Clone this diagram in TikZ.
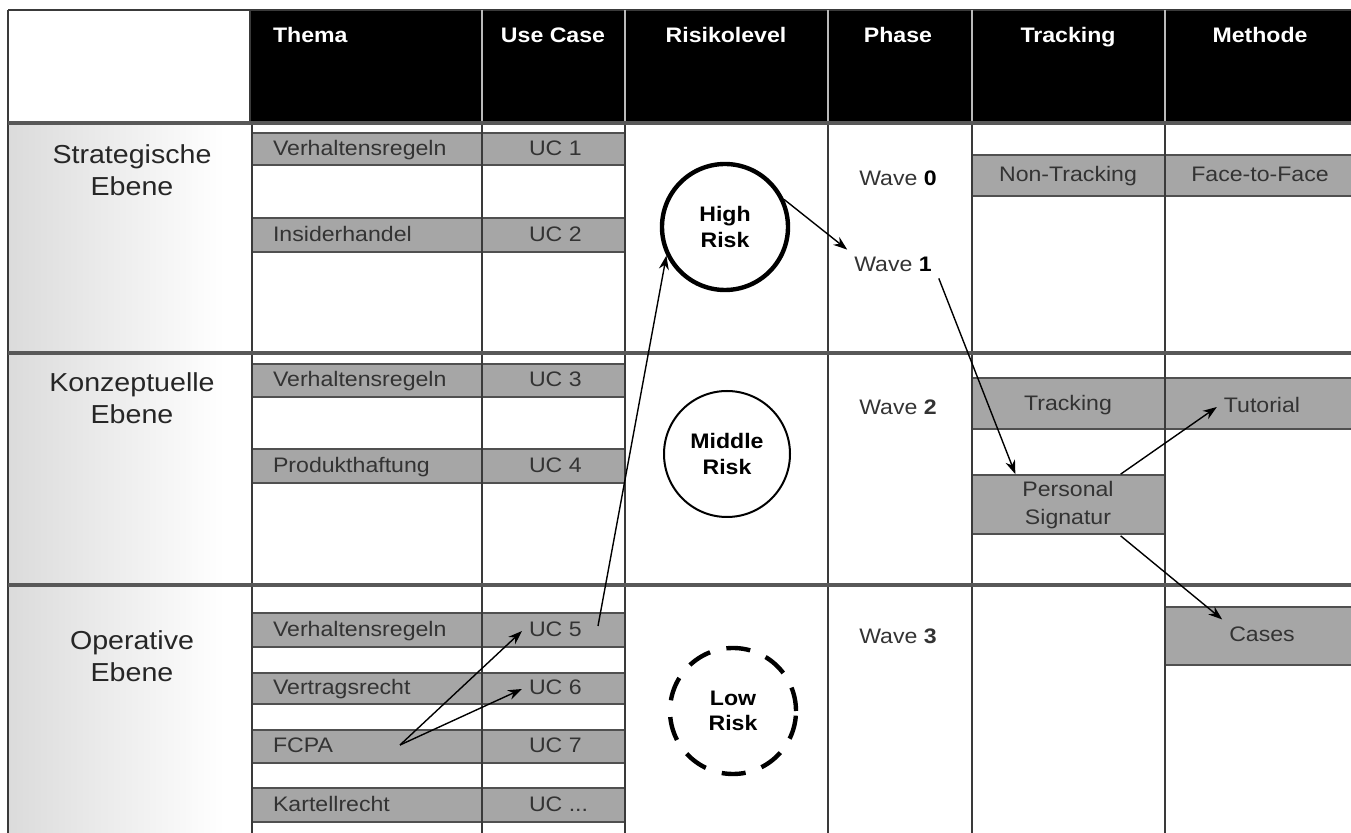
\documentclass[tikz,border=0pt]{standalone}
\usepackage{fontspec}
\setmainfont{Liberation Sans}[FakeStretch=1.1]
\usepackage{xcolor}
\usetikzlibrary{arrows.meta}
\definecolor{bar-gray}{HTML}{A6A6A6}
\definecolor{bar-line}{HTML}{505050}
\definecolor{grid-line}{HTML}{3A3A3A}
\definecolor{label-gray}{HTML}{333333}

\begin{document}
\begin{tikzpicture}[
    x=0.5pt, y=-0.5pt,
    bar/.style={fill=bar-gray, draw=bar-line, line width=1pt},
    grid/.style={draw=grid-line, line width=1pt},
    rowsep/.style={draw=grid-line!85, line width=1.6pt},
    headsep/.style={draw=gray!55, line width=0.6pt},
    head/.style={font=\fontsize{10.5}{12.6}\selectfont\bfseries, text=white, text height=0.75em, text depth=0.2em},
    cell/.style={font=\fontsize{10.5}{12.6}\selectfont, text=label-gray, text height=0.75em, text depth=0.2em},
    level/.style={font=\fontsize{13}{16}\selectfont, text=black!85, align=center},
    wave/.style={font=\fontsize{10.5}{12.6}\selectfont, text=label-gray},
    risk/.style={circle, draw=black, minimum size=63pt, align=center, font=\fontsize{10.5}{12.6}\selectfont\bfseries},
    arrow/.style={->, >={Stealth[length=7pt, width=5pt]}, line width=0.7pt}
]
    \useasboundingbox (0,0) rectangle (1351,833);
    \clip (0,0) rectangle (1351,833);
    \fill[white] (0,0) rectangle (1351,833);

    % left column shading and header
    \shade[left color=gray!28, right color=white] (9,125) rectangle (225,352);
    \shade[left color=gray!28, right color=white] (9,355) rectangle (225,584);
    \shade[left color=gray!28, right color=white] (9,587) rectangle (225,840);
    \fill[black] (250,10) rectangle (1360,123);

    % bars
    \draw[bar] (252,133) rectangle (625,165);
    \draw[bar] (252,218) rectangle (625,252);
    \draw[bar] (252,364) rectangle (625,397);
    \draw[bar] (252,449) rectangle (625,483);
    \draw[bar] (252,613) rectangle (625,647);
    \draw[bar] (252,673) rectangle (625,704);
    \draw[bar] (252,730) rectangle (625,763);
    \draw[bar] (252,788) rectangle (625,822);
    \draw[bar] (972,155) rectangle (1360,196);
    \draw[bar] (972,378) rectangle (1360,429);
    \draw[bar] (972,475) rectangle (1165,534);
    \draw[bar] (1165,607) rectangle (1360,665);

    % grid
    \draw[grid, line width=1.4pt] (8,10) -- (1360,10);
    \draw[grid, line width=1.4pt] (8,10) -- (8,840);
    \draw[grid] (250,10) -- (250,123);
    \draw[headsep] (482,10) -- (482,123);
    \draw[headsep] (625,10) -- (625,123);
    \draw[headsep] (828,10) -- (828,123);
    \draw[headsep] (972,10) -- (972,123);
    \draw[headsep] (1165,10) -- (1165,123);
    \draw[grid] (252,123) -- (252,840);
    \draw[grid] (482,123) -- (482,840);
    \draw[grid] (625,123) -- (625,840);
    \draw[grid] (828,123) -- (828,840);
    \draw[grid] (972,123) -- (972,840);
    \draw[grid] (1165,123) -- (1165,840);
    \draw[rowsep] (8,123) -- (1360,123);
    \draw[rowsep] (8,353) -- (1360,353);
    \draw[rowsep] (8,585) -- (1360,585);

    % header
    \node[head, anchor=west] (h-thema) at (266,37) {Thema};
    \node[head] (h-uc) at (553,37) {Use Case};
    \node[head] (h-risk) at (726,37) {Risikolevel};
    \node[head] (h-phase) at (898,37) {Phase};
    \node[head] (h-track) at (1068,37) {Tracking};
    \node[head] (h-meth) at (1260,37) {Methode};

    % levels
    \node[level] (lv-strat) at (132,170) {Strategische\\Ebene};
    \node[level] (lv-konz) at (132,398) {Konzeptuelle\\Ebene};
    \node[level] (lv-oper) at (132,656) {Operative\\Ebene};

    % themes and use cases
    \node[cell, anchor=west] (t-vr1) at (266,150) {Verhaltensregeln};
    \node[cell, anchor=west] (t-ih) at (266,236) {Insiderhandel};
    \node[cell, anchor=west] (t-vr3) at (266,381) {Verhaltensregeln};
    \node[cell, anchor=west] (t-ph) at (266,467) {Produkthaftung};
    \node[cell, anchor=west] (t-vr5) at (266,631) {Verhaltensregeln};
    \node[cell, anchor=west] (t-vt) at (266,689) {Vertragsrecht};
    \node[cell, anchor=west] (t-fcpa) at (266,747) {FCPA};
    \node[cell, anchor=west] (t-kr) at (266,806) {Kartellrecht};
    \node[cell, anchor=west] (uc1) at (522,150) {UC 1};
    \node[cell, anchor=west] (uc2) at (522,236) {UC 2};
    \node[cell, anchor=west] (uc3) at (522,381) {UC 3};
    \node[cell, anchor=west] (uc4) at (522,467) {UC 4};
    \node[cell, anchor=west] (uc5) at (522,631) {UC 5};
    \node[cell, anchor=west] (uc6) at (522,689) {UC 6};
    \node[cell, anchor=west] (uc7) at (522,747) {UC 7};
    \node[cell, anchor=west] (ucx) at (522,806) {UC ...};

    % risk levels
    \node[risk, line width=2.2pt] (high) at (725,227) {High\\Risk};
    \node[risk, line width=1pt] (middle) at (727,454) {Middle\\Risk};
    \node[risk, line width=2.2pt, dash pattern=on 12pt off 8.4pt] (low) at (733,711) {Low\\Risk};

    % phases
    \node[wave] (w0) at (898,178) {Wave \textbf{\color{black}0}};
    \node[wave] (w1) at (893,264) {Wave \textbf{\color{black}1}};
    \node[wave] (w2) at (898,407) {Wave \textbf{2}};
    \node[wave] (w3) at (898,636) {Wave \textbf{3}};

    % tracking and methods
    \node[cell] (nt) at (1068,176) {Non-Tracking};
    \node[cell] (ff) at (1260,176) {Face-to-Face};
    \node[cell] (tr) at (1068,405) {Tracking};
    \node[cell] (tut) at (1262,407) {Tutorial};
    \node[cell, align=center, font=\fontsize{10.5}{14}\selectfont, text height=, text depth=] (ps) at (1068,505) {Personal\\Signatur};
    \node[cell] (cases) at (1262,636) {Cases};

    \coordinate (uc5-out) at (598,626);
    \coordinate (fcpa-out) at (400,745);

    \draw[arrow] (high.25) -- (w1.north west);
    \draw[arrow] (w1.south east) -- (ps.north west);
    \draw[arrow] (uc5-out) -- (high.206);
    \draw[arrow] (fcpa-out) -- (uc5.west);
    \draw[arrow] (fcpa-out) -- (uc6.west);
    \draw[arrow] (ps.north east) -- (tut.west);
    \draw[arrow] (ps.south east) -- (cases.north west);
\end{tikzpicture}
\end{document}
